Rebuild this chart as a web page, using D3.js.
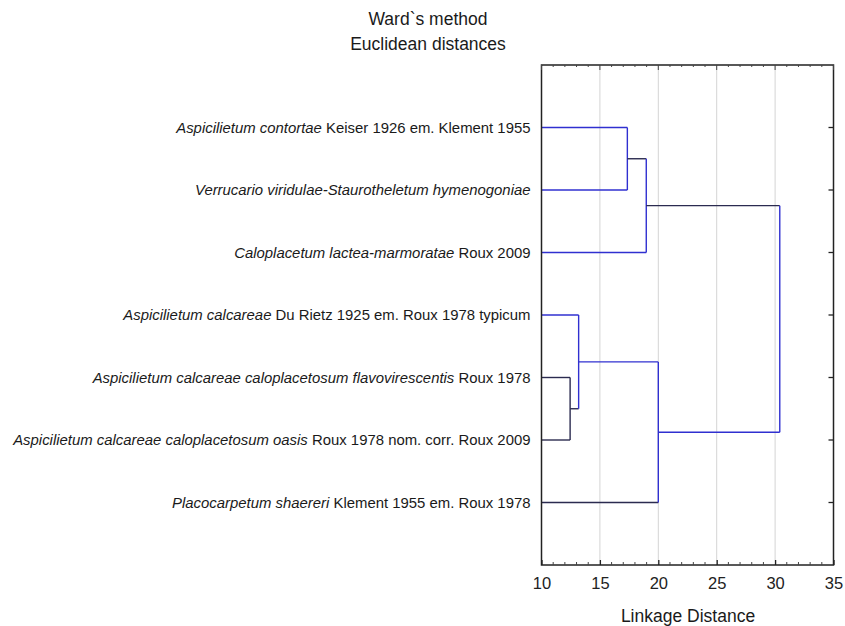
<!DOCTYPE html>
<html><head><meta charset="utf-8">
<script src="https://cdn.jsdelivr.net/npm/d3@7"></script>
<style>body{margin:0;background:#fff;}svg{display:block;font-family:"Liberation Sans",Arial,sans-serif;}</style>
</head><body>
<script>
// Leaf labels (italic part, roman part), top to bottom
const labelItalic = [
  "Aspicilietum contortae",
  "Verrucario viridulae-Staurotheletum hymenogoniae",
  "Caloplacetum lactea-marmoratae",
  "Aspicilietum calcareae",
  "Aspicilietum calcareae caloplacetosum flavovirescentis",
  "Aspicilietum calcareae caloplacetosum oasis",
  "Placocarpetum shaereri"
];
const labelRoman = [
  "Keiser 1926 em. Klement 1955",
  "",
  "Roux 2009",
  "Du Rietz 1925 em. Roux 1978 typicum",
  "Roux 1978",
  "Roux 1978 nom. corr. Roux 2009",
  "Klement 1955 em. Roux 1978"
];
// Linkage: cluster n+i joins mergeLeft[i] and mergeRight[i] at mergeHeight[i]
const mergeLeft   = [0, 7, 4, 3, 10, 8];
const mergeRight  = [1, 2, 5, 9, 6, 11];
const mergeHeight = [17.35, 18.97, 12.45, 13.18, 20.0, 30.4];
const xTicks = [10, 15, 20, 25, 30, 35];
const gridTicks = [15, 20, 25, 30];
const titleLines = ["Ward`s method", "Euclidean distances"];
const xTitle = "Linkage Distance";

const W = 845, H = 626;
const L = 541.5, R = 833.5, T = 65, B = 565;
const blue = "#3030d0", dark = "#2b2b50";
const darkNodes = new Set([4, 5, 6, 7, 8, 9]);

const svg = d3.select("body").append("svg").attr("width", W).attr("height", H);
const x = d3.scaleLinear().domain([10, 35]).range([L, R]);
const y = d3.scaleLinear().domain([0, labelItalic.length + 1]).range([T, B]);

// gridlines
svg.append("g").selectAll("line").data(gridTicks).join("line")
  .attr("x1", d => x(d)).attr("x2", d => x(d)).attr("y1", T).attr("y2", B)
  .attr("stroke", "#d4d4d4").attr("stroke-width", 1);

// compute node positions
const n = labelItalic.length;
const nodeY = {}, nodeX = {};
for (let i = 0; i < n; i++) { nodeY[i] = y(i + 1); nodeX[i] = 10; }
mergeHeight.forEach((h, i) => {
  const id = n + i;
  nodeY[id] = (nodeY[mergeLeft[i]] + nodeY[mergeRight[i]]) / 2;
  nodeX[id] = h;
});
const g = svg.append("g").attr("fill", "none").attr("stroke-width", 1.4);
mergeHeight.forEach((h, i) => {
  const id = n + i;
  [mergeLeft[i], mergeRight[i]].forEach(c => {
    g.append("line")
      .attr("x1", x(nodeX[c])).attr("x2", x(h))
      .attr("y1", nodeY[c]).attr("y2", nodeY[c])
      .attr("stroke", darkNodes.has(c) ? dark : blue);
  });
  g.append("line")
    .attr("x1", x(h)).attr("x2", x(h))
    .attr("y1", nodeY[mergeLeft[i]]).attr("y2", nodeY[mergeRight[i]])
    .attr("stroke", id === 9 ? dark : blue);
});

// frame
svg.append("rect").attr("x", L).attr("y", T).attr("width", R - L).attr("height", B - T)
  .attr("fill", "none").attr("stroke", "#222").attr("stroke-width", 1.5);

// bottom axis (ticks inward)
const minor = d3.range(10, 35.01, 1);
const axB = d3.axisBottom(x).tickValues(xTicks).tickSize(-5).tickPadding(12).tickFormat(d3.format("d"));
const gb = svg.append("g").attr("transform", `translate(0,${B})`).call(axB);
gb.select(".domain").remove();
gb.selectAll("line").attr("stroke", "#222").attr("stroke-width", 1.3);
gb.selectAll("text").attr("font-size", 16.5).attr("fill", "#222").attr("font-family", "Liberation Sans, Arial, sans-serif");
svg.append("g").selectAll("line").data(minor.filter(v => v % 5 !== 0)).join("line")
  .attr("x1", d => x(d)).attr("x2", d => x(d)).attr("y1", B).attr("y2", B - 3)
  .attr("stroke", "#444").attr("stroke-width", 1);
// top ticks
svg.append("g").selectAll("line").data(minor).join("line")
  .attr("x1", d => x(d)).attr("x2", d => x(d)).attr("y1", T).attr("y2", d => T + (d % 5 === 0 ? 5 : 2))
  .attr("stroke", "#444").attr("stroke-width", 1);
// right ticks at leaves
svg.append("g").selectAll("line").data(d3.range(n)).join("line")
  .attr("x1", R - 5).attr("x2", R).attr("y1", d => y(d + 1)).attr("y2", d => y(d + 1))
  .attr("stroke", "#222").attr("stroke-width", 1.3);

// leaf labels
const lab = svg.append("g").selectAll("text").data(d3.range(n)).join("text")
  .attr("x", L - 11).attr("y", d => y(d + 1)).attr("dy", "0.35em")
  .attr("text-anchor", "end").attr("font-size", 14.9).attr("fill", "#1a1a1a");
lab.append("tspan").attr("font-style", "italic").text(d => labelItalic[d]);
lab.append("tspan").text(d => labelRoman[d] ? " " + labelRoman[d] : "");

// titles
svg.append("g").selectAll("text").data(titleLines).join("text")
  .attr("x", 428).attr("y", (d, i) => 25 + i * 25).attr("text-anchor", "middle")
  .attr("font-size", 17.5).attr("fill", "#1a1a1a").text(d => d);
svg.append("text").attr("x", 688).attr("y", 622).attr("text-anchor", "middle")
  .attr("font-size", 17.5).attr("fill", "#1a1a1a").text(xTitle);
</script>
</body></html>
